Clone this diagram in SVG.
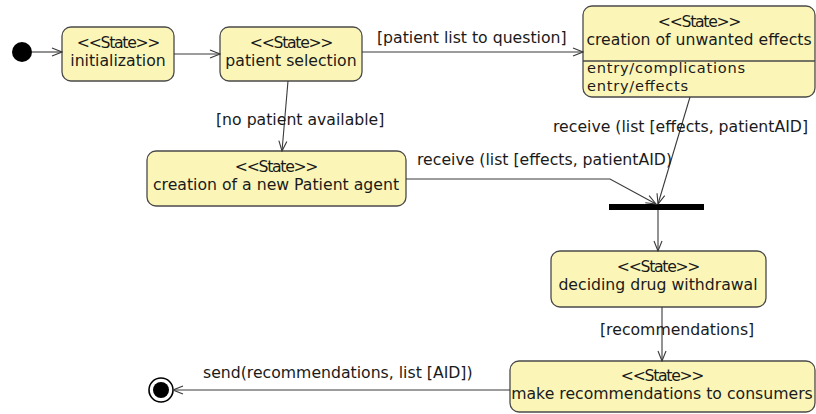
<svg xmlns="http://www.w3.org/2000/svg" width="816" height="414" viewBox="0 0 816 414">
  <style>
    .state rect { fill: #fbf6b8; stroke: #4a4a4a; stroke-width: 1.3; }
    .sep { stroke: #4a4a4a; stroke-width: 1.3; }
    text { font-family: "DejaVu Sans", "Liberation Sans", sans-serif; font-size: 15.7px; fill: #1a1a1a; }
    .c { text-anchor: middle; }
    .st { letter-spacing: -1.3px; }
    .act { font-size: 14.6px; }
    .edge { fill: none; stroke: #3a3a3a; stroke-width: 1.1; marker-end: url(#open); }
  </style>
  <defs>
    <marker id="open" viewBox="0 0 12 10" refX="11" refY="5" markerWidth="12" markerHeight="10" markerUnits="userSpaceOnUse" orient="auto">
      <path d="M1,1 L11,5 L1,9" fill="none" stroke="#3a3a3a" stroke-width="1.1"/>
    </marker>
  </defs>
  <rect width="816" height="414" fill="#ffffff"/>

  <!-- pseudo-states -->
  <g id="start"><circle cx="22" cy="52" r="10" fill="#000"/></g>
  <g id="end">
    <circle cx="161" cy="390" r="12" fill="#fff" stroke="#000" stroke-width="1.6"/>
    <circle cx="161" cy="390" r="8" fill="#000"/>
  </g>
  <g id="join"><rect x="609" y="204" width="95" height="6" fill="#000"/></g>

  <!-- states -->
  <g id="initialization" class="state">
    <rect x="62" y="27" width="112" height="54" rx="9"/>
    <text class="c st" x="118" y="48">&lt;&lt;State&gt;&gt;</text>
    <text class="c" x="118" y="66">initialization</text>
  </g>
  <g id="patient-selection" class="state">
    <rect x="220" y="27" width="142" height="54" rx="9"/>
    <text class="c st" x="291" y="48">&lt;&lt;State&gt;&gt;</text>
    <text class="c" x="291" y="66">patient selection</text>
  </g>
  <g id="unwanted-effects" class="state">
    <rect x="583" y="6" width="232" height="91" rx="9"/>
    <line class="sep" x1="583" y1="61" x2="815" y2="61"/>
    <text class="c st" x="699" y="27">&lt;&lt;State&gt;&gt;</text>
    <text class="c" x="699" y="45">creation of unwanted effects</text>
    <text class="act" x="587" y="73" textLength="158" lengthAdjust="spacing">entry/complications</text>
    <text class="act" x="587" y="90.5" textLength="101" lengthAdjust="spacing">entry/effects</text>
  </g>
  <g id="new-patient-agent" class="state">
    <rect x="147" y="151" width="259" height="55" rx="9"/>
    <text class="c st" x="276" y="172">&lt;&lt;State&gt;&gt;</text>
    <text class="c" x="276" y="190">creation of a new Patient agent</text>
  </g>
  <g id="drug-withdrawal" class="state">
    <rect x="551" y="251" width="215" height="56" rx="9"/>
    <text class="c st" x="658" y="272">&lt;&lt;State&gt;&gt;</text>
    <text class="c" x="658" y="290">deciding drug withdrawal</text>
  </g>
  <g id="recommendations" class="state">
    <rect x="510" y="361" width="305" height="51" rx="9"/>
    <text class="c st" x="662" y="381">&lt;&lt;State&gt;&gt;</text>
    <text class="c" x="662" y="399">make recommendations to consumers</text>
  </g>

  <!-- transitions -->
  <g id="connectors">
    <line class="edge" x1="32" y1="52" x2="62" y2="52"/>
    <line class="edge" x1="174" y1="54" x2="220" y2="54"/>
    <line class="edge" x1="362" y1="52" x2="583" y2="52"/>
    <line class="edge" x1="288" y1="81" x2="282" y2="151"/>
    <polyline class="edge" points="406,179 610,179 656,204"/>
    <line class="edge" x1="690" y1="97" x2="658" y2="204"/>
    <line class="edge" x1="658" y1="210" x2="658" y2="251"/>
    <line class="edge" x1="662" y1="307" x2="662" y2="361"/>
    <line class="edge" x1="510" y1="390" x2="173" y2="390"/>
  </g>

  <!-- transition labels -->
  <g id="labels">
    <text x="377" y="43">[patient list to question]</text>
    <text x="216" y="125">[no patient available]</text>
    <text x="553" y="132">receive (list [effects, patientAID]</text>
    <text x="417" y="165">receive (list [effects, patientAID)</text>
    <text x="600" y="335">[recommendations]</text>
    <text x="203" y="378">send(recommendations, list [AID])</text>
  </g>
</svg>
